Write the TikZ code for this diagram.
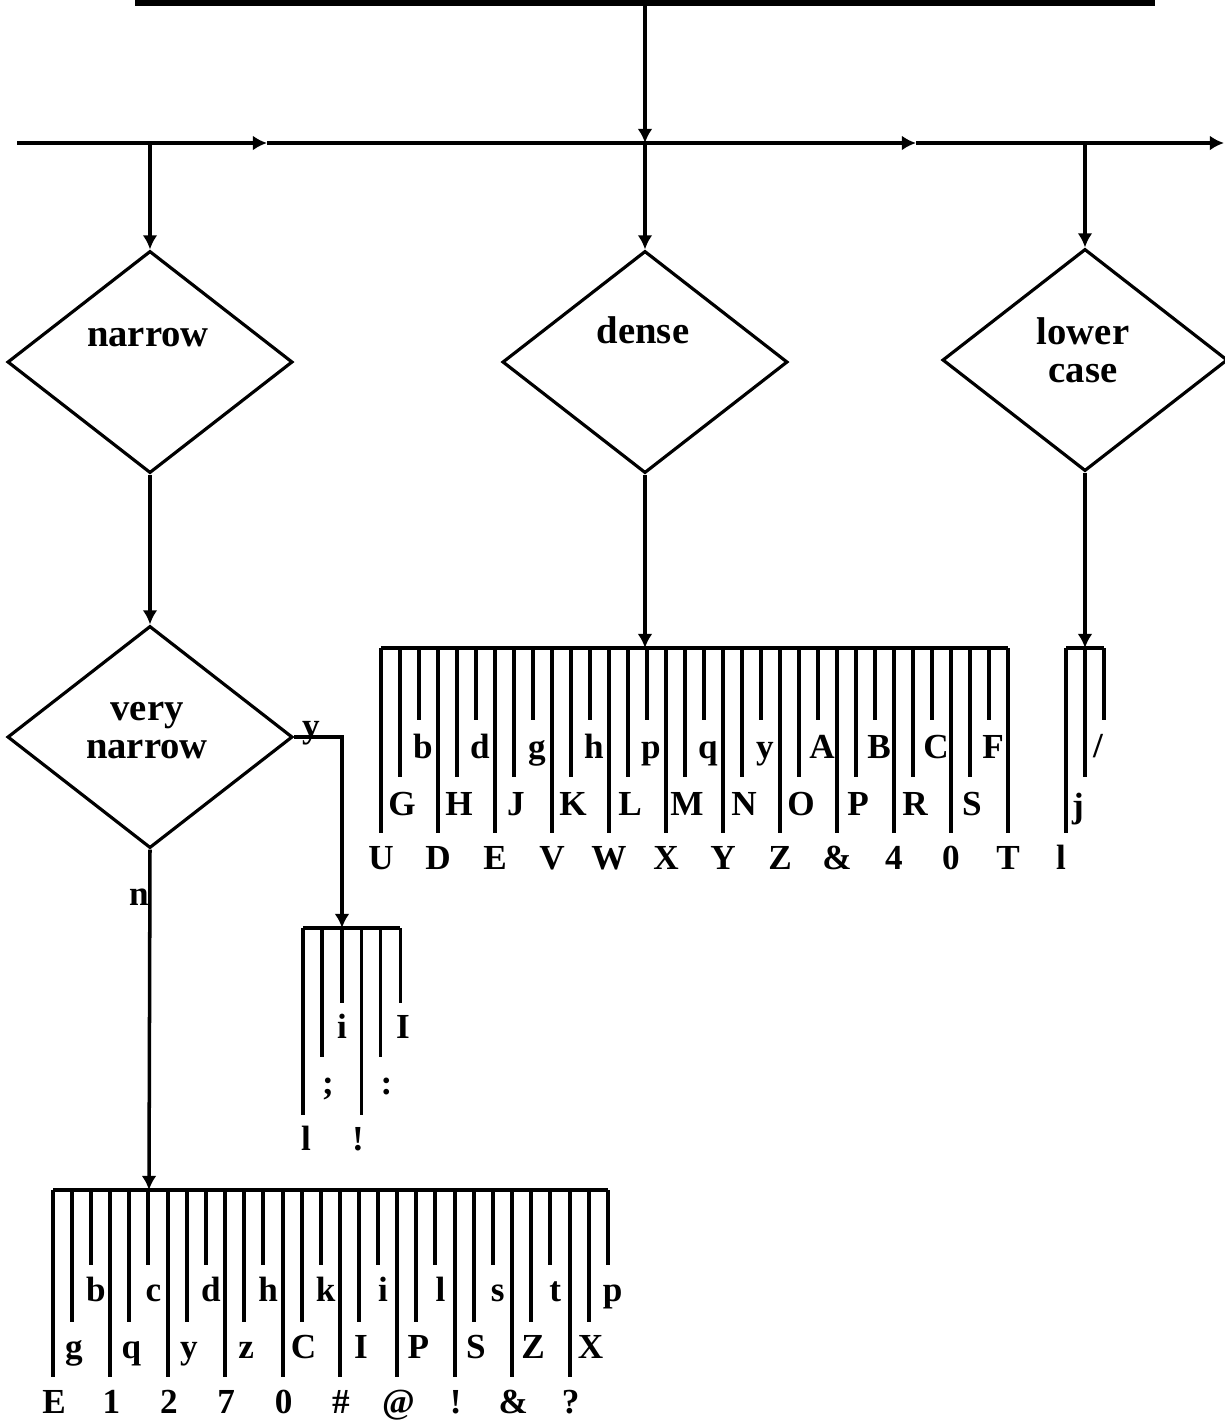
\documentclass[tikz,border=0pt]{standalone}
\usepackage{fontspec}
\setmainfont{Liberation Serif}
\usetikzlibrary{shapes.geometric,arrows.meta,positioning}

\begin{document}
\begin{tikzpicture}[
    x=0.01cm, y=-0.01cm,
    decision/.style={
      diamond, draw, line width=0.9pt, minimum width=2.85cm,
      minimum height=2.22cm, inner sep=0pt
    },
    flow/.style={-{Latex[length=4pt,width=4.2pt]}, line width=1pt},
    bus/.style={line width=1.3pt},
    tooth/.style={line width=1.1pt},
    caption/.style={font=\fontsize{11}{10.8}\selectfont\bfseries, align=center, inner sep=0pt},
    glyph/.style={font=\fontsize{10}{10}\selectfont\bfseries, anchor=base, inner sep=0pt}
  ]
  \useasboundingbox (0,0) rectangle (1225,1426);
  \clip (0,0) rectangle (1225,1426);

  % source box (cut off at the top) and the bus
  \node[draw, line width=2.2pt, minimum width=10.12cm, minimum height=1cm,
        inner sep=0pt, anchor=south] (source) at (645,6) {};
  \coordinate (busW) at (17,143);
  \coordinate (busN) at (150,143);
  \coordinate (busA) at (267,143);
  \coordinate (busM) at (645,143);
  \coordinate (busB) at (916,143);
  \coordinate (busL) at (1085,143);
  \coordinate (busE) at (1224,143);
  \draw[flow] (source.south) -- (busM);
  \draw[flow, bus] (busW) -- (busA);
  \draw[flow, bus] (busA) -- (busB);
  \draw[flow, bus] (busB) -- (busE);

  % tests
  \node[decision] (narrow) at (150,362) {};
  \node[decision] (dense) at (645,362) {};
  \node[decision] (lower) at (1085,360) {};
  \node[decision] (vnarrow) at (150,737) {};
  \node[caption, anchor=base] (narrowtxt) at (148,346) {narrow};
  \node[caption, anchor=base] (densetxt) at (643,343) {dense};
  \node[caption] (lowertxt) at (1083,350) {lower\\case};
  \node[caption] (vnarrowtxt) at (147,731) {very\\narrow};

  \draw[flow] (busN) -- (narrow.north);
  \draw[flow] (busM) -- (dense.north);
  \draw[flow] (busL) -- (lower.north);
  \draw[flow] (narrow.south) -- (vnarrow.north);

  % comb under dense
  \coordinate (densein) at (645,648);
  \draw[flow] (dense.south) -- (densein);
  \draw[tooth] (381,648) -- (1008,648);
  \foreach \t [count=\i from 0] in {U,D,E,V,W,X,Y,Z,\&,4,0,T} {
    \draw[tooth] ({381+57*\i},648) -- ++(0,185);
    \node[glyph] (dL\i) at ({381+57*\i},869) {\t};
  }
  \foreach \t [count=\i from 0] in {G,H,J,K,L,M,N,O,P,R,S} {
    \draw[tooth] ({400+57*\i},648) -- ++(0,129);
    \node[glyph] (dM\i) at ({402+57*\i},815) {\t};
  }
  \foreach \t [count=\i from 0] in {b,d,g,h,p,q,y,A,B,C,F} {
    \draw[tooth] ({419+57*\i},648) -- ++(0,72);
    \node[glyph] (dS\i) at ({423+57*\i},758) {\t};
  }

  % comb under lower case
  \coordinate (lowerin) at (1085,648);
  \draw[flow] (lower.south) -- (lowerin);
  \draw[tooth] (1066,648) -- (1104,648);
  \draw[tooth] (1066,648) -- ++(0,185);
  \draw[tooth] (1085,648) -- ++(0,129);
  \draw[tooth] (1104,648) -- ++(0,72);
  \node[glyph] (lL) at (1061,869) {l};
  \node[glyph] (lM) at (1078,817) {j};
  \node[glyph] (lS) at (1098,757) {/};

  % y branch of very narrow
  \coordinate (yin) at (342,928);
  \draw[flow] (vnarrow.east) -| (yin);
  \node[glyph] (ylab) at (311,737) {y};
  \draw[tooth] (303,928) -- (400,928);
  \foreach \t [count=\i from 0] in {l,!} {
    \draw[tooth] ({303+58.5*\i},928) -- ++(0,187);
    \node[glyph] (yL\i) at ({306+52*\i},1150) {\t};
  }
  \foreach \t [count=\i from 0] in {{;},{:}} {
    \draw[tooth] ({322+58.5*\i},928) -- ++(0,129);
    \node[glyph] (yM\i) at ({328+58.5*\i},1094) {\t};
  }
  \foreach \t [count=\i from 0] in {i,I} {
    \draw[tooth] ({342+58.5*\i},928) -- ++(0,75);
    \node[glyph] (yS\i) at ({342+61*\i},1038) {\t};
  }

  % n branch of very narrow
  \coordinate (nin) at (149,1190);
  \draw[flow] (vnarrow.south) -- (nin);
  \node[glyph] (nlab) at (139,905) {n};
  \draw[tooth] (53,1190) -- (608,1190);
  \foreach \t [count=\i from 0] in {E,1,2,7,0,\#,@,!,\&,?} {
    \draw[tooth] ({53+57.4*\i},1190) -- ++(0,187);
    \node[glyph] (nL\i) at ({54+57.4*\i},1413) {\t};
  }
  \foreach \t [count=\i from 0] in {g,q,y,z,C,I,P,S,Z,X} {
    \draw[tooth] ({72+57.4*\i},1190) -- ++(0,132);
    \node[glyph] (nM\i) at ({74+57.4*\i},1358) {\t};
  }
  \foreach \t [count=\i from 0] in {b,c,d,h,k,i,l,s,t,p} {
    \draw[tooth] ({91+57.4*\i},1190) -- ++(0,75);
    \node[glyph] (nS\i) at ({96+57.4*\i},1301) {\t};
  }
\end{tikzpicture}
\end{document}
